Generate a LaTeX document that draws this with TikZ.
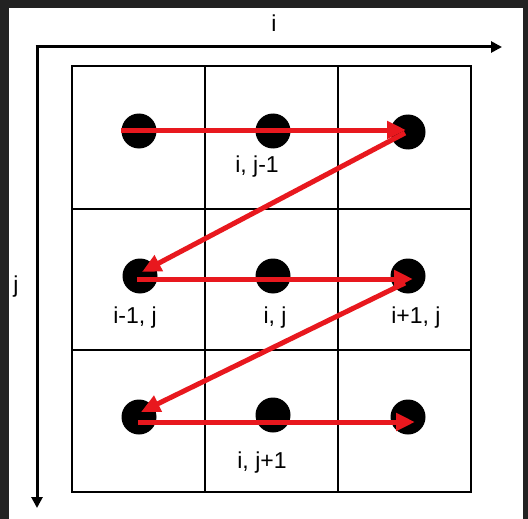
\documentclass[tikz,border=0pt]{standalone}
\usepackage{fontspec}
\setmainfont{Liberation Sans}
\usetikzlibrary{arrows.meta}
\definecolor{arrowred}{RGB}{232,24,30}
\definecolor{frame}{RGB}{34,34,34}
\begin{document}
\begin{tikzpicture}[x=1pt,y=-1pt,
  dot/.style={circle,fill=black,minimum size=35pt,inner sep=0pt},
  lbl/.style={anchor=base,font=\fontsize{23}{26}\selectfont,inner sep=0pt},
  gridline/.style={line width=2pt,black},
  axis/.style={line width=3pt,black,-{Triangle[length=11pt,width=11pt]}},
  walk/.style={line width=5pt,arrowred,-{Triangle[length=19pt,width=17pt]}}]
\fill[frame] (0,0) rectangle (528,519);
\fill[white] (9,8) rectangle (523,519);
\useasboundingbox (0,0) rectangle (528,519);
% grid
\draw[gridline] (72,66) rectangle (471,492);
\draw[gridline] (205,66) -- (205,492);
\draw[gridline] (338,66) -- (338,492);
\draw[gridline] (72,209) -- (471,209);
\draw[gridline] (72,350) -- (471,350);
% axes
\coordinate (o) at (37,47);
\coordinate (xe) at (502,47);
\coordinate (ye) at (37,508);
\draw[axis] ([xshift=-1.5pt]o) -- (xe);
\draw[axis] (o) -- (ye);
\node[lbl] (li) at (274,32) {i};
\node[lbl] (lj) at (16,292) {j};
% dots
\node[dot] (d11) at (139,131) {};
\node[dot] (d12) at (273,131) {};
\node[dot] (d13) at (408,132) {};
\node[dot] (d21) at (140,276) {};
\node[dot] (d22) at (273,276) {};
\node[dot] (d23) at (408,276) {};
\node[dot] (d31) at (139,417) {};
\node[dot] (d32) at (273,415) {};
\node[dot] (d33) at (408,417) {};
% labels
\node[lbl] (l12) at (257,172) {i, j-1};
\node[lbl] (l21) at (135,323) {i-1, j};
\node[lbl] (l22) at (275,323) {i, j};
\node[lbl] (l23) at (416,323) {i+1, j};
\node[lbl] (l32) at (262,468) {i, j+1};
% walk
\draw[walk] ([yshift=1pt]d11.west) -- ([xshift=-2pt,yshift=2pt]d13.center);
\draw[walk] ([xshift=-3pt,yshift=-1pt]d13.center) -- ([xshift=2pt,yshift=4pt]d21.center);
\draw[walk] ([xshift=-3pt,yshift=-3pt]d21.center) -- ([xshift=5pt,yshift=-3pt]d23.center);
\draw[walk] ([xshift=-3pt,yshift=-7pt]d23.center) -- ([xshift=2pt,yshift=5pt]d31.center);
\draw[walk] ([xshift=-1pt,yshift=-5pt]d31.center) -- ([xshift=7pt,yshift=-5pt]d33.center);
\end{tikzpicture}
\end{document}
